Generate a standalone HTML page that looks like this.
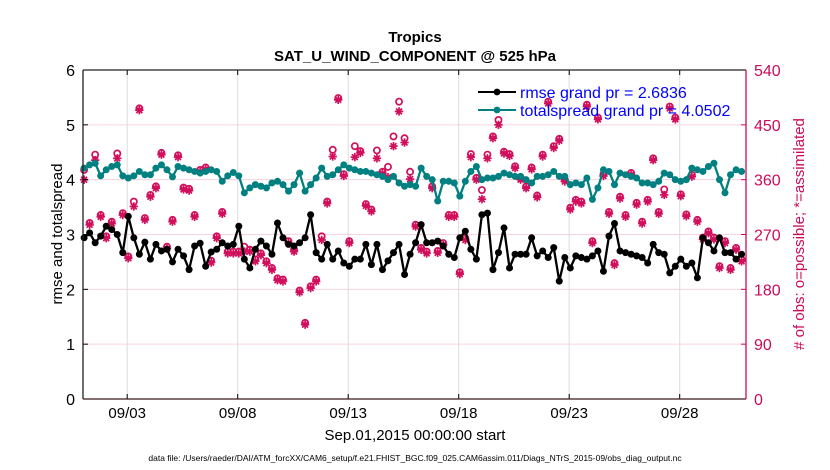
<!DOCTYPE html>
<html><head><meta charset="utf-8"><style>
html,body{margin:0;padding:0;background:#fff;}
svg{display:block;font-family:"Liberation Sans",sans-serif;}
</style></head><body>
<svg id="chart" width="830" height="470" viewBox="0 0 830 470" xmlns="http://www.w3.org/2000/svg">
<text x="415" y="42" text-anchor="middle" font-size="15" font-weight="bold">Tropics</text>
<text x="415" y="61" text-anchor="middle" font-size="15" font-weight="bold">SAT_U_WIND_COMPONENT @ 525 hPa</text>
<g id="grid"></g>
<g id="marks"></g>
<g id="axes"></g>
<text transform="translate(62,234) rotate(-90)" text-anchor="middle" font-size="15">rmse and totalspread</text>
<text transform="translate(804,234) rotate(-90)" text-anchor="middle" font-size="15" fill="#cc0a5a"># of obs: o=possible; *=assimilated</text>
<text x="415" y="440" text-anchor="middle" font-size="15">Sep.01,2015 00:00:00 start</text>
<text x="415" y="461" text-anchor="middle" font-size="8.5">data file: /Users/raeder/DAI/ATM_forcXX/CAM6_setup/f.e21.FHIST_BGC.f09_025.CAM6assim.011/Diags_NTrS_2015-09/obs_diag_output.nc</text>
<g id="legend">
<line x1="478" y1="92" x2="516" y2="92" stroke="#000" stroke-width="2"/><circle cx="497" cy="92" r="3.4" fill="#000"/>
<text x="520" y="98" font-size="16" fill="#0000ff">rmse grand pr = 2.6836</text>
<line x1="478" y1="110" x2="516" y2="110" stroke="#008080" stroke-width="2"/><circle cx="497" cy="110" r="3.4" fill="#008080"/>
<text x="520" y="116" font-size="16" fill="#0000ff">totalspread grand pr = 4.0502</text>
</g>
</svg>
<script>
const rmse=[2.94,3.03,2.85,2.97,3.15,3.09,3.00,2.67,3.33,2.94,2.64,2.86,2.55,2.82,2.70,2.73,2.50,2.73,2.61,2.36,2.79,2.84,2.42,2.68,2.73,2.85,2.79,2.82,3.15,2.55,
2.39,2.73,2.88,2.79,2.64,3.21,2.94,2.82,2.79,2.85,2.94,3.36,2.67,2.55,2.82,2.55,2.70,2.48,2.42,2.55,2.55,2.82,2.45,2.82,2.36,2.52,2.67,2.82,2.27,2.64,
2.85,3.18,2.85,2.85,2.88,2.79,2.64,2.58,2.94,3.06,2.73,2.55,3.36,3.39,2.36,2.67,3.12,2.39,2.64,2.64,2.64,2.94,2.61,2.70,2.58,2.76,2.15,2.58,2.39,2.61,
2.58,2.55,2.61,2.70,2.33,2.97,3.20,2.70,2.67,2.64,2.61,2.58,2.48,2.82,2.67,2.64,2.30,2.42,2.55,2.42,2.48,2.21,2.94,2.85,2.70,2.94,2.67,2.67,2.55,2.64];
const totalspread=[4.21,4.27,4.30,4.07,4.18,4.24,4.27,4.07,4.03,4.07,4.15,4.09,4.09,4.21,4.27,4.18,4.05,4.24,4.21,4.18,4.15,4.12,4.15,4.18,4.15,3.97,4.07,4.13,4.07,3.76,
3.85,3.91,3.88,3.85,3.94,3.97,3.91,3.79,3.91,4.12,3.79,3.91,4.03,4.21,4.06,4.09,4.18,4.27,4.21,4.18,4.15,4.15,4.12,4.09,4.06,4.00,4.06,3.94,3.88,3.91,
3.88,4.21,4.06,4.00,3.61,3.97,3.97,3.94,3.70,3.97,4.15,4.24,4.00,4.03,4.03,4.06,4.12,4.09,4.06,4.06,4.00,3.94,4.06,4.06,4.09,4.15,4.06,4.06,3.91,3.94,
3.91,4.03,3.64,3.85,4.18,4.15,3.91,4.12,4.09,4.06,4.03,3.94,3.94,3.91,3.97,4.12,4.09,4.00,3.97,4.00,4.21,4.18,4.15,4.24,4.30,4.00,3.76,4.09,4.18,4.15];
const assimilated=[360,286,392,299,264,288,395,302,231,316,474,294,332,346,401,247,291,397,344,342,299,373,377,224,264,304,239,239,239,242,
242,226,236,223,212,195,193,256,242,175,122,182,193,261,321,398,491,366,256,397,404,317,308,395,370,364,415,472,421,361,
283,245,239,346,240,253,299,299,205,261,397,360,328,395,428,450,403,399,379,360,346,377,331,398,485,412,424,357,311,324,
321,480,256,459,366,304,220,329,299,368,319,288,324,392,304,335,477,459,333,300,365,291,262,272,262,215,256,212,245,226];
const possible=[376,289,401,302,267,291,403,305,234,324,477,297,335,349,404,250,294,400,347,345,302,376,380,227,267,307,242,242,242,250,
245,229,239,226,215,198,196,259,245,178,125,185,196,267,324,409,494,369,259,415,407,320,311,408,373,381,431,488,428,373,
286,248,242,349,243,256,302,302,208,264,402,363,343,401,431,458,406,402,382,363,349,380,334,401,488,415,427,360,314,327,
324,483,259,462,369,307,223,332,302,371,322,291,327,395,307,344,480,462,336,303,368,294,265,275,265,218,259,215,248,229];
const xTickLabels=["09/03","09/08","09/13","09/18","09/23","09/28"];
const xTickDays=[2,7,12,17,22,27];
const yTicks=[0,1,2,3,4,5,6];
const y2Ticks=[0,90,180,270,360,450,540];

const L=83,R=746,T=70,B=399,DAYS=30;
const xs=d=>L+(R-L)*d/DAYS;
const ys=v=>B-(B-T)*v/6;
const y2s=n=>B-(B-T)*n/540;
const dayOf=i=>i*0.25+0.05;
const NS="http://www.w3.org/2000/svg";
function mk(tag,attrs,parent){const e=document.createElementNS(NS,tag);for(const k in attrs)e.setAttribute(k,attrs[k]);parent.appendChild(e);return e;}
const grid=document.getElementById('grid'),marks=document.getElementById('marks'),axes=document.getElementById('axes');

yTicks.forEach(v=>{
  if(v>0&&v<6){const g=mk('line',{x1:L,x2:R,y1:ys(v),y2:ys(v),stroke:'#f6d3df','stroke-width':1},grid);
  
  }
  const t=mk('text',{x:L-8,y:ys(v)+6,'text-anchor':'end','font-size':16},axes);t.textContent=v;
  
  
  mk('line',{x1:L,x2:L+5,y1:ys(v),y2:ys(v),stroke:'#000'},axes);
});
y2Ticks.forEach(n=>{
  const t=mk('text',{x:R+8,y:y2s(n)+6,'font-size':16,fill:'#cc0a5a'},axes);t.textContent=n;
  
  
  mk('line',{x1:R-5,x2:R,y1:y2s(n),y2:y2s(n),stroke:'#cc0a5a'},axes);
});
xTickDays.forEach((d,k)=>{
  const g=mk('line',{x1:xs(d),x2:xs(d),y1:T,y2:B,stroke:'#dcdcdc','stroke-width':1},grid);
  
  
  mk('line',{x1:xs(d),x2:xs(d),y1:B-5,y2:B,stroke:'#000'},axes);
  mk('line',{x1:xs(d),x2:xs(d),y1:T,y2:T+5,stroke:'#000'},axes);
  const t=mk('text',{x:xs(d),y:418,'text-anchor':'middle','font-size':15},axes);t.textContent=xTickLabels[k];
  
  
});
mk('line',{x1:L,x2:R,y1:T,y2:T,stroke:'#222','stroke-width':1.3},axes);
mk('line',{x1:L,x2:R,y1:B,y2:B,stroke:'#3a1a1a','stroke-width':1.3},axes);
mk('line',{x1:L,x2:L,y1:T,y2:B,stroke:'#222','stroke-width':1.3},axes);
mk('line',{x1:R,x2:R,y1:T,y2:B,stroke:'#cc0a5a','stroke-width':1.3},axes);

assimilated.forEach((n,i)=>{
  const x=xs(dayOf(i)),y=y2s(n);
  const g=mk('g',{stroke:'#d10f5c','stroke-width':1.7,fill:'none'},marks);
  
  
  const s=4.2;
  mk('line',{x1:x-s,x2:x+s,y1:y,y2:y},g);
  mk('line',{x1:x,x2:x,y1:y-s,y2:y+s},g);
  mk('line',{x1:x-s*0.7,x2:x+s*0.7,y1:y-s*0.7,y2:y+s*0.7},g);
  mk('line',{x1:x-s*0.7,x2:x+s*0.7,y1:y+s*0.7,y2:y-s*0.7},g);
});
possible.forEach((n,i)=>{
  const c=mk('circle',{cx:xs(dayOf(i)),cy:y2s(n),r:3.1,fill:'none',stroke:'#d10f5c','stroke-width':1.7},marks);
  
  
});
function series(arr,color,name){
  const p=mk('polyline',{points:arr.map((v,i)=>xs(dayOf(i))+','+ys(v)).join(' '),fill:'none',stroke:color,'stroke-width':2.3,'stroke-linejoin':'round'},marks);
  
  
  arr.forEach((v,i)=>{
    const c=mk('circle',{cx:xs(dayOf(i)),cy:ys(v),r:3.5,fill:color},marks);
    
    
  });
}
series(totalspread,'#008080','totalspread');
series(rmse,'#000000','rmse');
</script>
</body></html>
